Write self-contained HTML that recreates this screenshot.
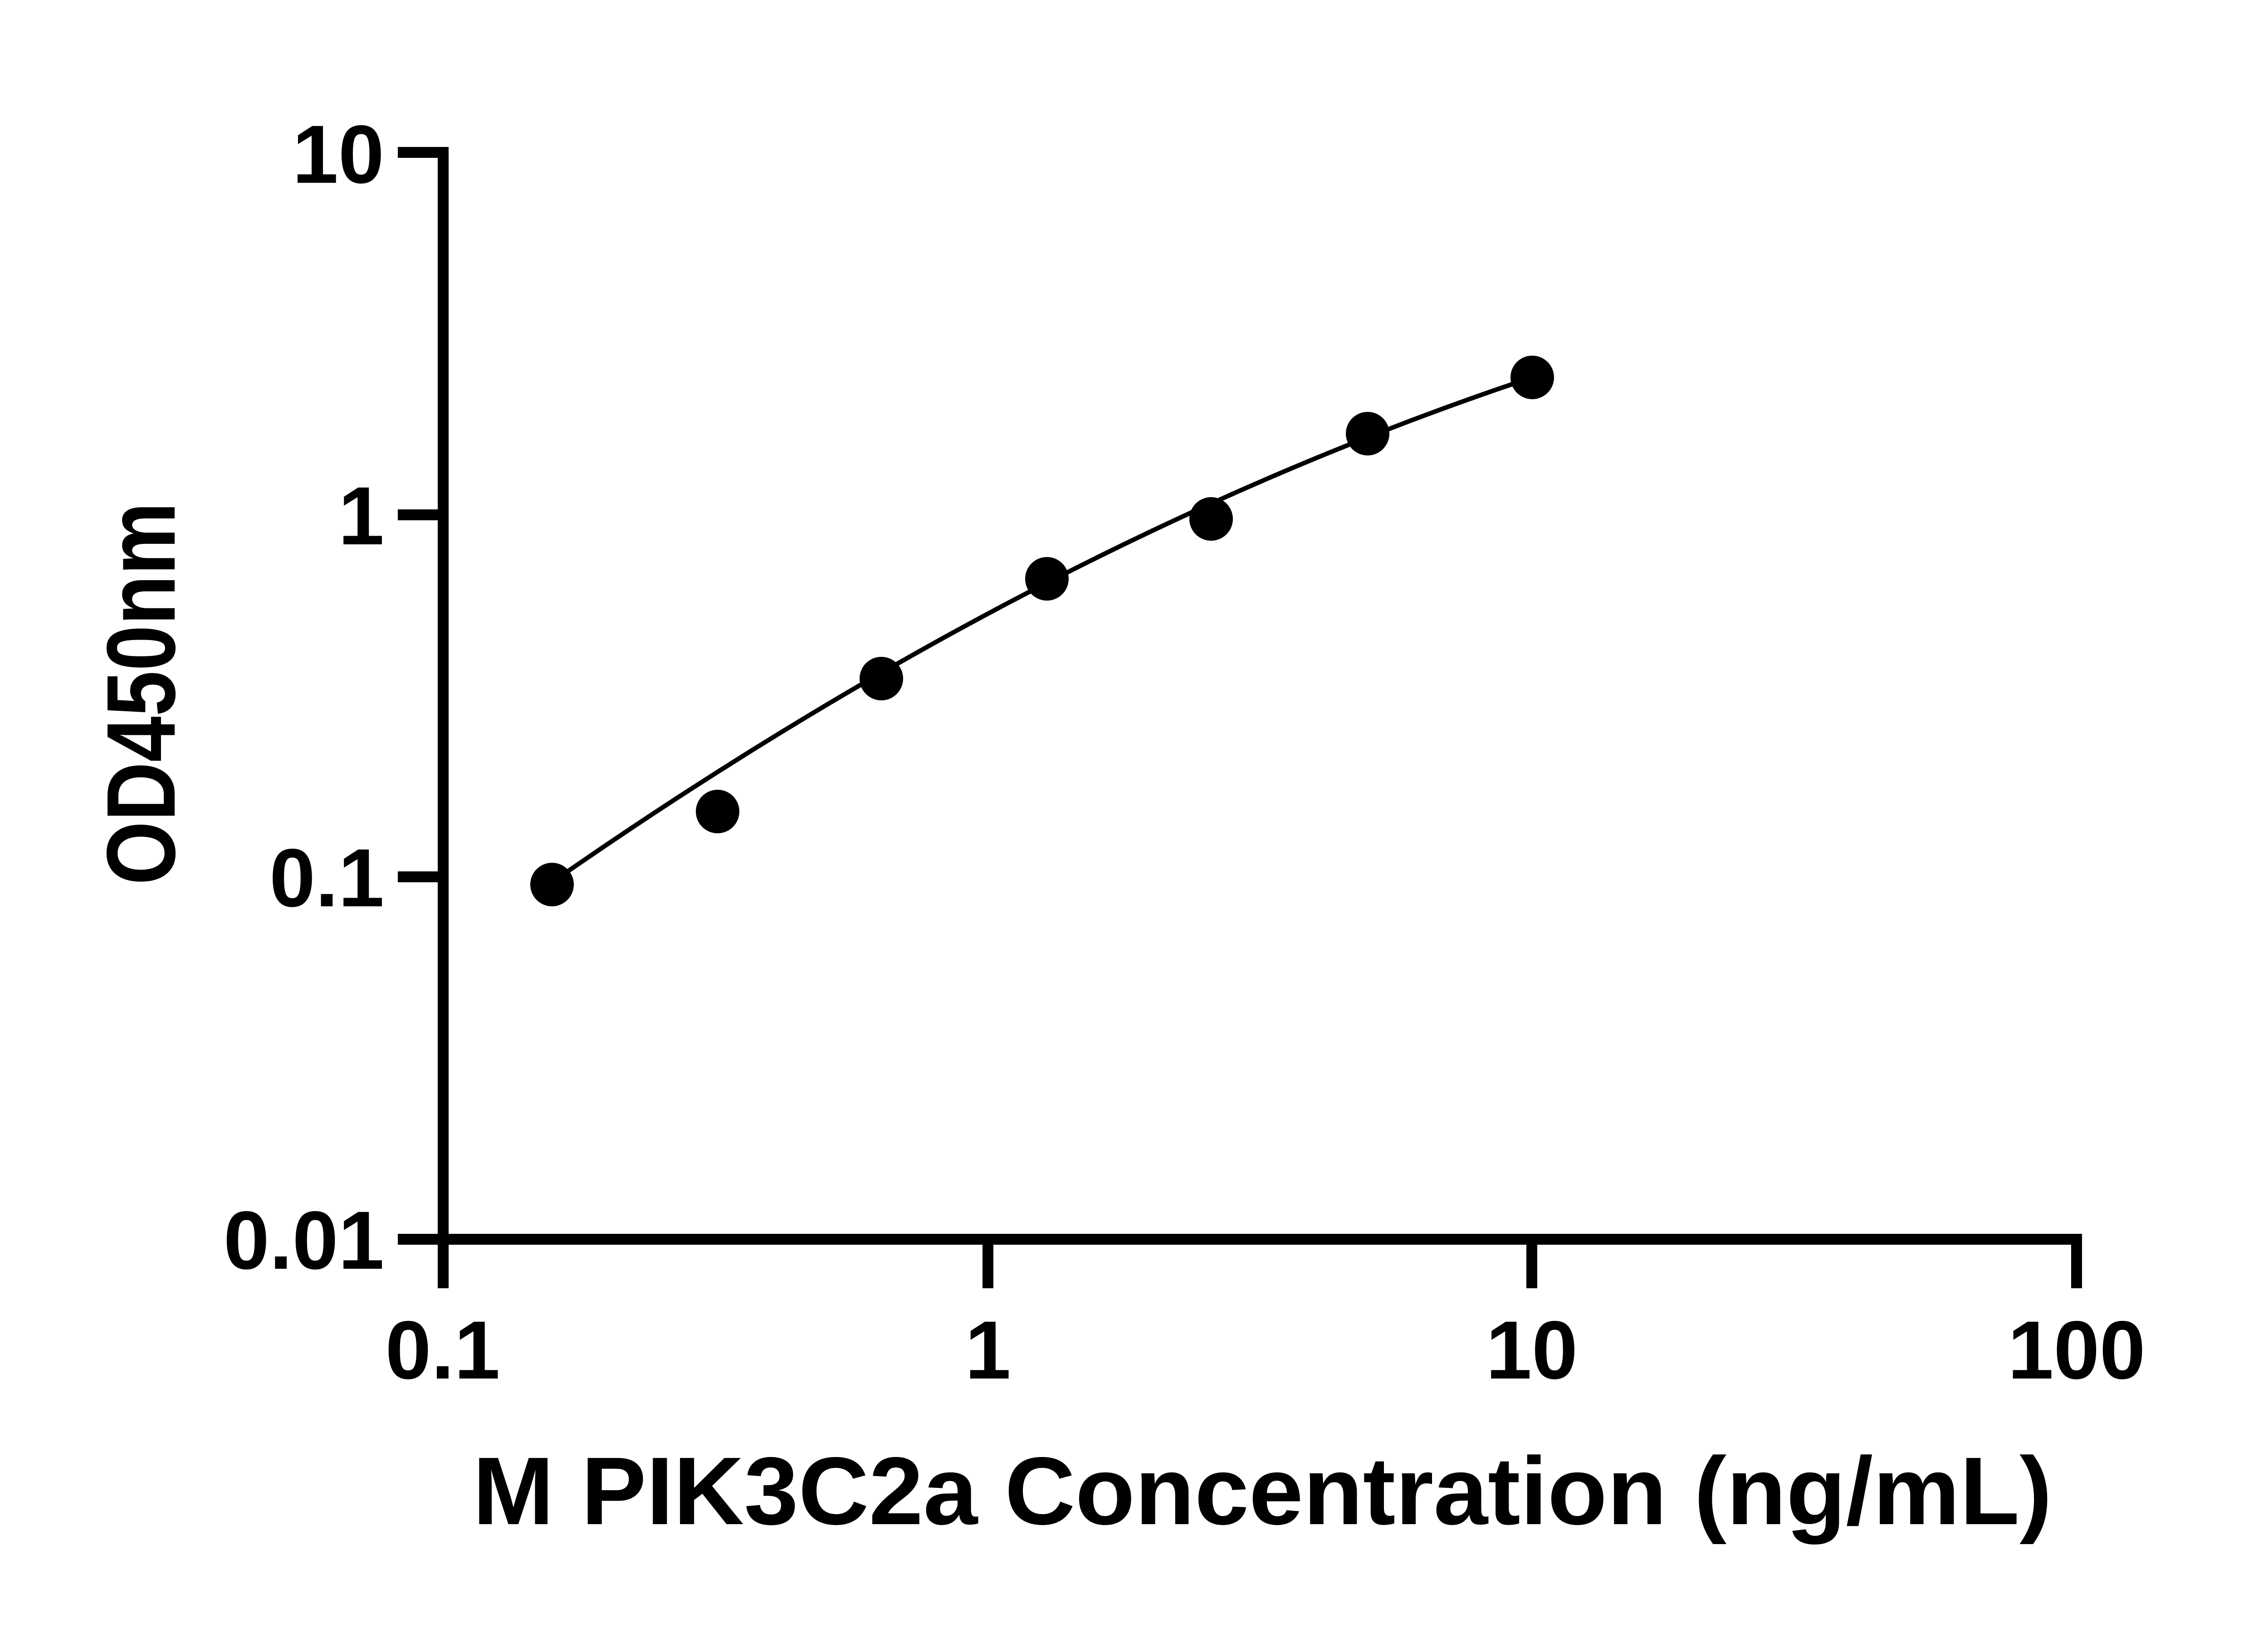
<!DOCTYPE html>
<html><head><meta charset="utf-8"><style>html,body{margin:0;padding:0;background:#fff}svg{display:block}</style></head>
<body>
<svg width="5130" height="3600" viewBox="0 0 5130 3600" xmlns="http://www.w3.org/2000/svg">
<rect width="5130" height="3600" fill="#fff"/>
<g stroke="#000" stroke-width="24" fill="none">
<line x1="977" y1="324" x2="977" y2="2840"/>
<line x1="877" y1="2732" x2="4583" y2="2732"/>
<line x1="877" y1="336" x2="977" y2="336"/>
<line x1="877" y1="1135" x2="977" y2="1135"/>
<line x1="877" y1="1933" x2="977" y2="1933"/>
<line x1="2178" y1="2732" x2="2178" y2="2840"/>
<line x1="3377" y1="2732" x2="3377" y2="2840"/>
<line x1="4578" y1="2720" x2="4578" y2="2840"/>
</g>
<path d="M1217,1945 Q2297,1192 3378,832" stroke="#000" stroke-width="10" fill="none"/>
<g fill="#000">
<circle cx="1217" cy="1950" r="48"/>
<circle cx="1582" cy="1789" r="48"/>
<circle cx="1943" cy="1496" r="48"/>
<circle cx="2308" cy="1276" r="48"/>
<circle cx="2670" cy="1144" r="48"/>
<circle cx="3015" cy="956" r="48"/>
<circle cx="3378" cy="832" r="48"/>
</g>
<g font-family="Liberation Sans, Arial, sans-serif" font-weight="bold" font-size="182" fill="#000">
<text x="847" y="403" text-anchor="end">10</text>
<text x="847" y="1200" text-anchor="end">1</text>
<text x="847" y="1998" text-anchor="end">0.1</text>
<text x="847" y="2797" text-anchor="end">0.01</text>
<text x="976" y="3039" text-anchor="middle">0.1</text>
<text x="2178" y="3039" text-anchor="middle">1</text>
<text x="3377" y="3039" text-anchor="middle">10</text>
<text x="4578" y="3039" text-anchor="middle">100</text>
</g>
<text x="1042" y="3360" font-family="Liberation Sans, Arial, sans-serif" font-weight="bold" font-size="212" textLength="3482" lengthAdjust="spacingAndGlyphs">M PIK3C2a Concentration (ng/mL)</text>
<text transform="translate(385,1951) rotate(-90)" x="0" y="0" font-family="Liberation Sans, Arial, sans-serif" font-weight="bold" font-size="215" textLength="844" lengthAdjust="spacingAndGlyphs">OD450nm</text>
</svg>
</body></html>
